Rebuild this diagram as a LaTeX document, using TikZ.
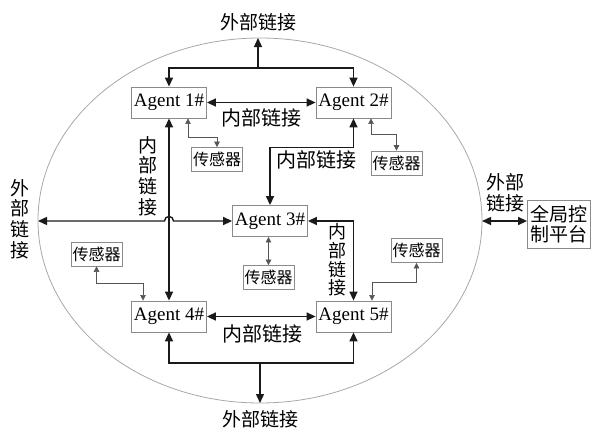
\documentclass[tikz,border=0pt]{standalone}
\usepackage{fontspec}
\setmainfont{Liberation Serif}
\newfontfamily\cjk{Noto Sans CJK SC}
\usetikzlibrary{arrows.meta,calc}
\definecolor{linecol}{HTML}{1A1A1A}
\definecolor{boxgray}{HTML}{8A8A8A}
\definecolor{ellgray}{HTML}{A8A8A8}
\definecolor{sensline}{HTML}{555555}
\begin{document}
\begin{tikzpicture}[x=1pt,y=-1pt,
  agent/.style={draw=boxgray, line width=0.8pt, minimum width=75pt, minimum height=31pt, inner sep=0pt, font=\fontsize{19}{19}\selectfont},
  sensor/.style={draw=boxgray, line width=0.7pt, minimum width=51pt, minimum height=24pt, inner sep=0pt, font=\cjk\fontsize{16}{16}\selectfont},
  lbl/.style={font=\cjk\fontsize{20}{20}\selectfont, inner sep=0pt},
  elbl/.style={font=\cjk\fontsize{19}{19}\selectfont, inner sep=0pt},
  vlbl/.style={font=\cjk\fontsize{19}{20.6}\selectfont, align=center, inner sep=0pt},
  vlbls/.style={font=\cjk\fontsize{18}{18.6}\selectfont, align=center, inner sep=0pt},
  link/.style={line width=1.4pt, draw=linecol, {Triangle[length=9pt,width=8pt]}-{Triangle[length=9pt,width=8pt]}},
  linkone/.style={line width=1.4pt, draw=linecol, -{Triangle[length=9pt,width=8pt]}},
  sline/.style={line width=0.6pt, draw=sensline, {Triangle[length=5.5pt,width=5.5pt]}-{Triangle[length=5.5pt,width=5.5pt]}},
  ell/.style={draw=ellgray, line width=0.8pt}
]
\useasboundingbox (0,0) rectangle (592,429);

% ellipse
\draw[ell] (260,220.5) ellipse [x radius=222pt, y radius=182.5pt];

% agents
\node[agent] (a1) at (169,102.5) {Agent 1\#};
\node[agent] (a2) at (353.5,102.5) {Agent 2\#};
\node[agent] (a3) at (270,221) {Agent 3\#};
\node[agent] (a4) at (169,316.5) {Agent 4\#};
\node[agent] (a5) at (353.5,316.5) {Agent 5\#};

% sensors
\node[sensor] (s1) at (217,159.5) {传感器};
\node[sensor] (s2) at (396.5,163) {传感器};
\node[sensor] (s3) at (268.5,277.5) {传感器};
\node[sensor] (s4) at (96.5,254) {传感器};
\node[sensor] (s5) at (416.5,250.5) {传感器};

% platform
\node[draw=boxgray, line width=0.8pt, minimum width=63pt, minimum height=48pt, inner sep=0pt, align=center,
      font=\cjk\fontsize{19}{20.5}\selectfont] (plat) at (559,224) {全局控\\制平台};

% coordinates
\coordinate (topbar) at (258,68);
\coordinate (etop) at (258,38);
\coordinate (botbar) at (260,363);
\coordinate (ebot) at (260,403);
\coordinate (eleft) at (38,221);
\coordinate (eright) at (482,221);

% labels
\node[elbl] (ltop) at (258,22) {外部链接};
\node[elbl] (lbot) at (260,419) {外部链接};
\node[lbl] (l12) at (261,118) {内部链接};
\node[lbl] (l45) at (262,334) {内部链接};
\node[lbl] (l23) at (316,160) {内部链接};
\node[vlbl] (l14) at (148,176) {内\\部\\链\\接};
\node[vlbls] (l35) at (337,260) {内\\部\\链\\接};
\node[vlbl] (lleft) at (20,219) {外\\部\\链\\接};
\node[vlbl] (lright) at (505,193) {外部\\链接};

% main links
\draw[link] (a1.north) -- (a1.north |- topbar) -- (a2.north |- topbar) -- (a2.north);
\draw[linkone] (topbar) -- (etop);
\draw[link] (a1.east) -- (a2.west);
\draw[link] (a1.south) -- (a4.north);
\draw[link] (a2.south) -- ($(a2.south)+(0,29)$) -| (a3.north);
\draw[link] (eleft) -- (164.5,221) .. controls (164.5,215) and (173.5,215) .. (173.5,221) -- (a3.west);
\draw[link] (a3.east) -| (a5.north);
\draw[link] (a4.east) -- (a5.west);
\draw[link] (a4.south) -- (a4.south |- botbar) -- (a5.south |- botbar) -- (a5.south);
\draw[linkone] (botbar) -- (ebot);
\draw[link] (eright) -- (eright -| plat.west);

% sensor links
\draw[sline] ($(a1.south)+(19,0)$) -- ++(0,19) -| (s1.north);
\draw[sline] ($(a2.south)+(17.5,0)$) -- ++(0,16) -| (s2.north);
\draw[sline] (s3.north) -- (s3.north |- a3.south);
\draw[sline] (s4.south) |- ($(a4.north)+(-26,-17)$) -- ($(a4.north)+(-26,0)$);
\draw[sline] (s5.south) |- ($(a5.north)+(18.5,-18)$) -- ($(a5.north)+(18.5,0)$);
\end{tikzpicture}
\end{document}
